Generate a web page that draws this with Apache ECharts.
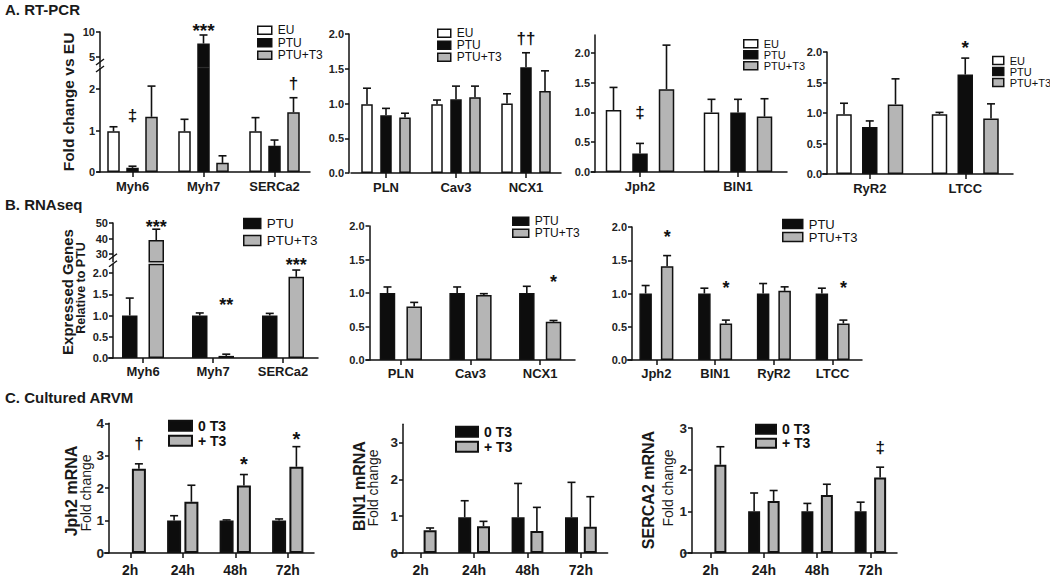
<!DOCTYPE html>
<html><head><meta charset="utf-8">
<script src="https://cdn.jsdelivr.net/npm/echarts@6/dist/echarts.min.js"></script>
<style>html,body{margin:0;padding:0;background:#fff}#c{width:1050px;height:577px}</style>
</head><body><div id="c"></div>
<script>
// ---------------- DATA ----------------
const groupsA = ['EU', 'PTU', 'PTU+T3'];
const groupsB = ['PTU', 'PTU+T3'];
const groupsC = ['0 T3', '+ T3'];

// A. RT-PCR
const a1Cats = ['Myh6', 'Myh7', 'SERCa2'];
const a1EU = [0.98, 0.98, 0.98];
const a1EUsem = [0.11, 0.29, 0.33];
const a1PTU = [0.10, 7.7, 0.63];
const a1PTUsem = [0.04, 1.7, 0.14];
const a1T3 = [1.33, 0.22, 1.44];
const a1T3sem = [0.74, 0.17, 0.35];
const a1Marks = [['Myh6', 'PTU', '‡', 1.37], ['Myh7', 'PTU', '***', 11.4], ['SERCa2', 'PTU+T3', '†', 2.14]];

const a2Cats = ['PLN', 'Cav3', 'NCX1'];
const a2EU = [0.99, 0.99, 1.0];
const a2EUsem = [0.23, 0.06, 0.14];
const a2PTU = [0.83, 1.06, 1.52];
const a2PTUsem = [0.10, 0.19, 0.21];
const a2T3 = [0.80, 1.09, 1.18];
const a2T3sem = [0.06, 0.16, 0.29];
const a2Marks = [['NCX1', 'PTU', '††', 1.93]];

const a3Cats = ['Jph2', 'BIN1'];
const a3EU = [1.04, 1.0];
const a3EUsem = [0.38, 0.22];
const a3PTU = [0.31, 1.0];
const a3PTUsem = [0.17, 0.22];
const a3T3 = [1.39, 0.93];
const a3T3sem = [0.74, 0.30];
const a3Marks = [['Jph2', 'PTU', '‡', 1.0]];

const a4Cats = ['RyR2', 'LTCC'];
const a4EU = [0.98, 0.98];
const a4EUsem = [0.18, 0.03];
const a4PTU = [0.77, 1.63];
const a4PTUsem = [0.10, 0.27];
const a4T3 = [1.14, 0.91];
const a4T3sem = [0.42, 0.24];
const a4Marks = [['LTCC', 'PTU', '*', 2.15]];

// B. RNAseq
const b1Cats = ['Myh6', 'Myh7', 'SERCa2'];
const b1PTU = [1.0, 1.0, 1.0];
const b1PTUsem = [0.41, 0.06, 0.05];
const b1T3 = [39, 0.05, 1.91];
const b1T3sem = [7, 0.04, 0.16];
const b1Marks = [['Myh6', 'PTU+T3', '***', 50.6], ['Myh7', 'PTU+T3', '**', 1.36], ['SERCa2', 'PTU+T3', '***', 2.3]];

const b2Cats = ['PLN', 'Cav3', 'NCX1'];
const b2PTU = [1.0, 1.0, 1.0];
const b2PTUsem = [0.09, 0.09, 0.10];
const b2T3 = [0.80, 0.97, 0.57];
const b2T3sem = [0.06, 0.02, 0.02];
const b2Marks = [['NCX1', 'PTU+T3', '*', 1.24]];

const b3Cats = ['Jph2', 'BIN1', 'RyR2', 'LTCC'];
const b3PTU = [1.0, 1.0, 1.0, 1.0];
const b3PTUsem = [0.12, 0.08, 0.15, 0.08];
const b3T3 = [1.41, 0.55, 1.04, 0.55];
const b3T3sem = [0.16, 0.05, 0.06, 0.05];
const b3Marks = [['Jph2', 'PTU+T3', '*', 1.92], ['BIN1', 'PTU+T3', '*', 1.16], ['LTCC', 'PTU+T3', '*', 1.16]];

// C. Cultured ARVM
const cCats = ['2h', '24h', '48h', '72h'];
const c1Zero = [null, 1.0, 1.0, 1.0];
const c1ZeroSem = [null, 0.15, 0.02, 0.05];
const c1T3 = [2.6, 1.58, 2.08, 2.66];
const c1T3sem = [0.15, 0.51, 0.34, 0.62];
const c1Marks = [['2h', '+ T3', '†', 3.38], ['48h', '+ T3', '*', 2.9], ['72h', '+ T3', '*', 3.69]];

const c2Zero = [null, 0.97, 0.97, 0.97];
const c2ZeroSem = [null, 0.45, 0.92, 0.95];
const c2T3 = [0.62, 0.73, 0.60, 0.71];
const c2T3sem = [0.06, 0.13, 0.64, 0.82];
const c2Marks = [];

const c3Zero = [null, 1.0, 1.0, 1.0];
const c3ZeroSem = [null, 0.44, 0.19, 0.22];
const c3T3 = [2.12, 1.25, 1.39, 1.81];
const c3T3sem = [0.43, 0.25, 0.26, 0.25];
const c3Marks = [['72h', '+ T3', '‡', 2.53]];

// tick labels
const a1LowTicks = [0, 1, 2];
const a1HighTicks = [5, 10];
const abTicks = [0, 0.5, 1, 1.5, 2];
const b1HighTicks = [30, 40, 50];
const c1Ticks = [0, 1, 2, 3, 4];
const c23Ticks = [0, 1, 2, 3];

// ---------------- STYLE / LAYOUT ----------------
const FONT = "'Liberation Sans', Arial, sans-serif";
const INK = '#111111';
const fillOf = {'EU': '#ffffff', 'PTU': '#0d0d0d', 'PTU+T3': '#b5b5b5', '0 T3': '#0d0d0d', '+ T3': '#b5b5b5'};

const A = {groups: groupsA, dec: 1, bord: 1.5, cap: 8, catFont: 13, catMargin: 8, tickFont: 11, starFont: 19, dagFont: 17};
const B = {groups: groupsB, dec: 1, bord: 1.5, cap: 8, catFont: 13, catMargin: 7, tickFont: 11, starFont: 18, dagFont: 17};
const C = {groups: groupsC, dec: 0, bord: 2, cap: 8, catFont: 14, catMargin: 10, tickFont: 13.5, starFont: 20, dagFont: 17};

const panels = [
  Object.assign({}, A, {cats: a1Cats, vals: [a1EU, a1PTU, a1T3], sems: [a1EUsem, a1PTUsem, a1T3sem],
    marks: a1Marks.filter(m => m[3] <= 2.5), box: [97, 68.25, 213, 103.75], min: 0, max: 2.5, ticks: a1LowTicks, dec: 0,
    yOff: -3, bw: 12.5, pitch: 19}),
  Object.assign({}, A, {cats: a1Cats, vals: [a1EU, a1PTU, a1T3], sems: [a1EUsem, a1PTUsem, a1T3sem],
    marks: a1Marks.filter(m => m[3] > 2.5), box: [97, 32, 213, 35], min: 3, max: 10, ticks: a1HighTicks, dec: 0,
    yOff: -3, bw: 12.5, pitch: 19, hideX: true, brk: true}),
  Object.assign({}, A, {cats: a2Cats, vals: [a2EU, a2PTU, a2T3], sems: [a2EUsem, a2PTUsem, a2T3sem],
    marks: a2Marks, box: [351, 34, 210, 139], min: 0, max: 2, ticks: abTicks, yOff: 2, bw: 11.5, pitch: 19}),
  Object.assign({}, A, {cats: a3Cats, vals: [a3EU, a3PTU, a3T3], sems: [a3EUsem, a3PTUsem, a3T3sem],
    marks: a3Marks, box: [591, 35, 196, 137], min: 0, max: 2.3, ticks: abTicks, yOff: -4, bw: 15.5, pitch: 26.5}),
  Object.assign({}, A, {cats: a4Cats, vals: [a4EU, a4PTU, a4T3], sems: [a4EUsem, a4PTUsem, a4T3sem],
    marks: a4Marks, box: [822, 52, 191, 122], min: 0, max: 2, ticks: abTicks, yOff: -5, bw: 15.5, pitch: 25.75}),
  Object.assign({}, B, {cats: b1Cats, vals: [b1PTU, b1T3], sems: [b1PTUsem, b1T3sem],
    marks: b1Marks.filter(m => m[3] <= 20), box: [108, 264.5, 210, 93.5], min: 0, max: 2.2, ticks: abTicks,
    yOff: -5, bw: 15.5, pitch: 26.5}),
  Object.assign({}, B, {cats: b1Cats, vals: [b1PTU, b1T3], sems: [b1PTUsem, b1T3sem],
    marks: b1Marks.filter(m => m[3] > 20), box: [108, 223, 210, 38.75], min: 25, max: 50, ticks: b1HighTicks, dec: 0,
    yOff: -5, bw: 15.5, pitch: 26.5, hideX: true, brk: true}),
  Object.assign({}, B, {cats: b2Cats, vals: [b2PTU, b2T3], sems: [b2PTUsem, b2T3sem],
    marks: b2Marks, box: [366, 226, 209, 134], min: 0, max: 2, ticks: abTicks, yOff: -3.5, bw: 15.5, pitch: 26.7}),
  Object.assign({}, B, {cats: b3Cats, vals: [b3PTU, b3T3], sems: [b3PTUsem, b3T3sem],
    marks: b3Marks, box: [627, 227, 235, 133], min: 0, max: 2, ticks: abTicks, yOff: -5, bw: 12.5, pitch: 21.5}),
  Object.assign({}, C, {cats: cCats, vals: [c1Zero, c1T3], sems: [c1ZeroSem, c1T3sem],
    marks: c1Marks, box: [104, 423.3, 210, 131], min: 0, max: 4, ticks: c1Ticks, yOff: -5, bw: 14, pitch: 17.3}),
  Object.assign({}, C, {cats: cCats, vals: [c2Zero, c2T3], sems: [c2ZeroSem, c2T3sem],
    marks: c2Marks, box: [394, 424.2, 213.6, 131.8], min: 0, max: 3.5, ticks: c23Ticks, yOff: -9, bw: 13, pitch: 18.8}),
  Object.assign({}, C, {cats: cCats, vals: [c3Zero, c3T3], sems: [c3ZeroSem, c3T3sem],
    marks: c3Marks, box: [684, 428, 213, 126], min: 0, max: 3, ticks: c23Ticks, yOff: -8, bw: 12, pitch: 19.5})
];

const legends = [
  {groups: groupsA, left: 257, top: 24, w: 14, h: 8, fs: 12, lh: 12.5, fw: 'normal', bord: 1.5},
  {groups: groupsA, left: 437, top: 27.3, w: 13, h: 8, fs: 12, lh: 11.5, fw: 'normal', bord: 1.5},
  {groups: groupsA, left: 743, top: 38.3, w: 14, h: 8, fs: 11, lh: 9.5, fw: 'normal', bord: 1.5},
  {groups: groupsA, left: 992, top: 55, w: 11, h: 8, fs: 11, lh: 10, fw: 'normal', bord: 1.5},
  {groups: groupsB, left: 243, top: 215, w: 17, h: 10, fs: 13.5, lh: 17, fw: 'normal', bord: 1.5},
  {groups: groupsB, left: 512, top: 215.2, w: 16, h: 8, fs: 12, lh: 11, fw: 'normal', bord: 1.5},
  {groups: groupsB, left: 782, top: 217.5, w: 20, h: 9, fs: 13, lh: 11.7, fw: 'normal', bord: 1.5},
  {groups: groupsC, left: 168, top: 418.2, w: 23, h: 10, fs: 14, lh: 15, fw: 'bold', bord: 2},
  {groups: groupsC, left: 455, top: 424.2, w: 22, h: 10, fs: 14, lh: 15, fw: 'bold', bord: 2},
  {groups: groupsC, left: 755, top: 422.3, w: 20, h: 9, fs: 14, lh: 14, fw: 'bold', bord: 2}
];

const yNames = [
  {text: 'Fold change vs EU', x: 68.5, y: 102, fs: 15.5, fw: 'bold'},
  {text: 'Expressed Genes', x: 67, y: 292, fs: 15, fw: 'bold'},
  {text: 'Relative to PTU', x: 80.5, y: 288, fs: 12.5, fw: 'bold'},
  {text: 'Jph2 mRNA', x: 71.5, y: 491, fs: 16, fw: 'bold'},
  {text: 'Fold change', x: 86, y: 493, fs: 14, fw: 'normal'},
  {text: 'BIN1 mRNA', x: 359, y: 486, fs: 16, fw: 'bold'},
  {text: 'Fold change', x: 373, y: 488, fs: 14, fw: 'normal'},
  {text: 'SERCA2 mRNA', x: 648, y: 490, fs: 16, fw: 'bold'},
  {text: 'Fold change', x: 667.5, y: 488, fs: 14, fw: 'normal'}
];

const titles = [
  {text: 'A. RT-PCR', top: 2},
  {text: 'B. RNAseq', top: 197},
  {text: 'C. Cultured ARVM', top: 390}
];

// ---------------- BUILD ----------------
const grid = [], xAxis = [], yAxis = [], series = [];
panels.forEach((p, i) => {
  const n = p.groups.length;
  grid.push({left: p.box[0], top: p.box[1], width: p.box[2], height: p.box[3]});
  xAxis.push({
    type: 'category', gridIndex: i, data: p.cats, show: !p.hideX,
    axisLine: {show: true, lineStyle: {color: INK, width: 1.5}},
    axisTick: {show: true, alignWithLabel: true, length: 5, lineStyle: {color: INK, width: 1.5}},
    axisLabel: {fontFamily: FONT, fontWeight: 'bold', fontSize: p.catFont, color: '#1a1a1a', margin: p.catMargin},
    splitLine: {show: false}
  });
  yAxis.push({
    type: 'value', gridIndex: i, min: p.min, max: p.max, offset: p.yOff,
    axisLine: {show: true, lineStyle: {color: INK, width: 1.5}},
    axisTick: {show: true, length: 4, customValues: p.ticks, lineStyle: {color: INK, width: 1.5}},
    axisLabel: {customValues: p.ticks, formatter: v => Number(v).toFixed(p.dec), fontFamily: FONT,
      fontWeight: 'bold', fontSize: p.tickFont, color: '#222', margin: 5},
    splitLine: {show: false}
  });
  p.groups.forEach((g, gi) => {
    series.push({
      type: 'bar', name: g, xAxisIndex: i, yAxisIndex: i, silent: true, clip: true,
      barWidth: p.bw, barGap: ((p.pitch / p.bw - 1) * 100).toFixed(1) + '%',
      itemStyle: {color: fillOf[g], borderColor: INK, borderWidth: p.bord},
      data: p.vals[gi].map(v => (v == null || v < p.min) ? null : v)
    });
  });
  // error bars (mean -> mean + SEM), drawn only in the segment that holds the mean
  const err = [];
  p.groups.forEach((g, gi) => p.cats.forEach((c, ci) => {
    const m = p.vals[gi][ci], s = p.sems[gi][ci];
    if (m != null && s != null && m >= p.min && m <= p.max) err.push([ci, m, m + s, gi]);
  }));
  series.push({
    type: 'custom', xAxisIndex: i, yAxisIndex: i, silent: true, z: 3, data: err,
    encode: {x: 0, y: [1, 2]},
    renderItem: (params, api) => {
      const ci = api.value(0), m = api.value(1), t = api.value(2), gi = api.value(3);
      const b = api.coord([ci, m]), e = api.coord([ci, t]);
      const x = b[0] + (gi - (n - 1) / 2) * p.pitch;
      const st = {stroke: INK, lineWidth: 1.6};
      return {type: 'group', children: [
        {type: 'line', shape: {x1: x, y1: b[1], x2: x, y2: e[1]}, style: st},
        {type: 'line', shape: {x1: x - p.cap / 2, y1: e[1], x2: x + p.cap / 2, y2: e[1]}, style: st}
      ]};
    }
  });
  // significance marks
  const mk = p.marks;
  if (mk.length) {
    series.push({
      type: 'custom', xAxisIndex: i, yAxisIndex: i, silent: true, z: 4,
      data: mk.map(m => [p.cats.indexOf(m[0]), m[3]]),
      renderItem: (params, api) => {
        const m = mk[params.dataIndex];
        const gi = p.groups.indexOf(m[1]);
        const pt = api.coord([api.value(0), api.value(1)]);
        const star = m[2].indexOf('*') >= 0;
        const fs = star ? p.starFont : p.dagFont;
        return {type: 'text', x: pt[0] + (gi - (n - 1) / 2) * p.pitch, y: pt[1] + (star ? fs * 0.27 : 0),
          style: {text: m[2], fontFamily: FONT, fontWeight: 'bold', fontSize: fs, fill: INK,
            align: 'center', verticalAlign: 'middle'}};
      }
    });
  }
  // axis break marks
  if (p.brk) {
    series.push({
      type: 'custom', xAxisIndex: i, yAxisIndex: i, silent: true, z: 5, data: [[0, p.min]],
      renderItem: (params, api) => {
        const cs = params.coordSys;
        const x = cs.x - p.yOff, y0 = cs.y + cs.height;
        const st = {stroke: INK, lineWidth: 1.4};
        return {type: 'group', children: [
          {type: 'line', shape: {x1: x - 4, y1: y0 - 2, x2: x + 4, y2: y0 - 8}, style: st},
          {type: 'line', shape: {x1: x - 4, y1: y0 + 5, x2: x + 4, y2: y0 - 1}, style: st}
        ]};
      }
    });
  }
});

const legend = legends.map(l => ({
  data: l.groups, orient: 'vertical', left: l.left, top: l.top, padding: 0,
  itemWidth: l.w, itemHeight: l.h, itemGap: 0, icon: 'rect', selectedMode: false,
  itemStyle: {borderColor: INK, borderWidth: l.bord},
  textStyle: {fontFamily: FONT, fontSize: l.fs, fontWeight: l.fw, color: INK, lineHeight: l.lh, padding: [0, 0, 0, 1]}
}));

const title = titles.map(t => ({
  text: t.text, left: 5, top: t.top, padding: 0,
  textStyle: {fontFamily: FONT, fontSize: 15, fontWeight: 'bold', color: '#1a1a1a'}
}));

const graphic = yNames.map(t => ({
  type: 'text', x: t.x, y: t.y, rotation: Math.PI / 2, silent: true,
  style: {text: t.text, fontFamily: FONT, fontSize: t.fs, fontWeight: t.fw, fill: '#1a1a1a',
    align: 'center', verticalAlign: 'middle'}
}));

const chart = echarts.init(document.getElementById('c'), null, {renderer: 'svg'});
chart.setOption({
  animation: false, backgroundColor: '#fff', tooltip: {show: false},
  title, legend, grid, xAxis, yAxis, series, graphic
});
</script></body></html>
